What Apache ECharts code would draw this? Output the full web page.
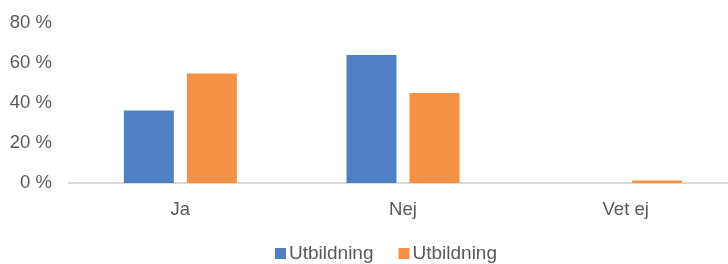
<!DOCTYPE html>
<html><head><meta charset="utf-8">
<script src="https://cdn.jsdelivr.net/npm/echarts@6/dist/echarts.min.js"></script>
<style>html,body{margin:0;padding:0;background:#fff}#c{width:728px;height:264px}</style>
</head><body><div id="c"></div>
<script>
const categories = ['Ja', 'Nej', 'Vet ej'];
const seriesNames = ['Utbildning', 'Utbildning'];
const blueValues = [36.2, 64, 0];
const orangeValues = [54.7, 45, 1.2];
const yTicks = [0, 20, 40, 60, 80];

const chart = echarts.init(document.getElementById('c'));
const font = 'Liberation Sans, Arial, sans-serif';
chart.setOption({
  animation: false,
  grid: { left: 69, right: -9, top: 23, bottom: 81, containLabel: false, outerBoundsMode: 'none' },
  legend: {
    top: 244, left: 275, padding: 0, itemWidth: 11, itemHeight: 11, itemGap: 25,
    icon: 'rect',
    textStyle: { fontFamily: font, fontSize: 19, color: '#595959', padding: [0,0,0,-2] },
    data: [{name: 'a'}, {name: 'b'}],
    formatter: n => n === 'a' ? seriesNames[0] : seriesNames[1]
  },
  xAxis: {
    type: 'category', data: categories,
    axisLine: { lineStyle: { color: '#d9d9d9', width: 2 } },
    axisTick: { show: false },
    axisLabel: { fontFamily: font, fontSize: 18.5, color: '#595959', margin: 17 }
  },
  yAxis: {
    type: 'value', min: yTicks[0], max: yTicks[yTicks.length-1], interval: 20,
    splitLine: { show: false },
    axisLine: { show: false }, axisTick: { show: false },
    axisLabel: { fontFamily: font, fontSize: 18.5, color: '#595959', margin: 17, formatter: v => v + ' %' }
  },
  series: [
    { name: 'a', type: 'bar', data: blueValues, barWidth: 50, barGap: '26%', itemStyle: { color: '#4f81c2' } },
    { name: 'b', type: 'bar', data: orangeValues, barWidth: 50, barGap: '26%', itemStyle: { color: '#f59246' } }
  ]
});
</script></body></html>
